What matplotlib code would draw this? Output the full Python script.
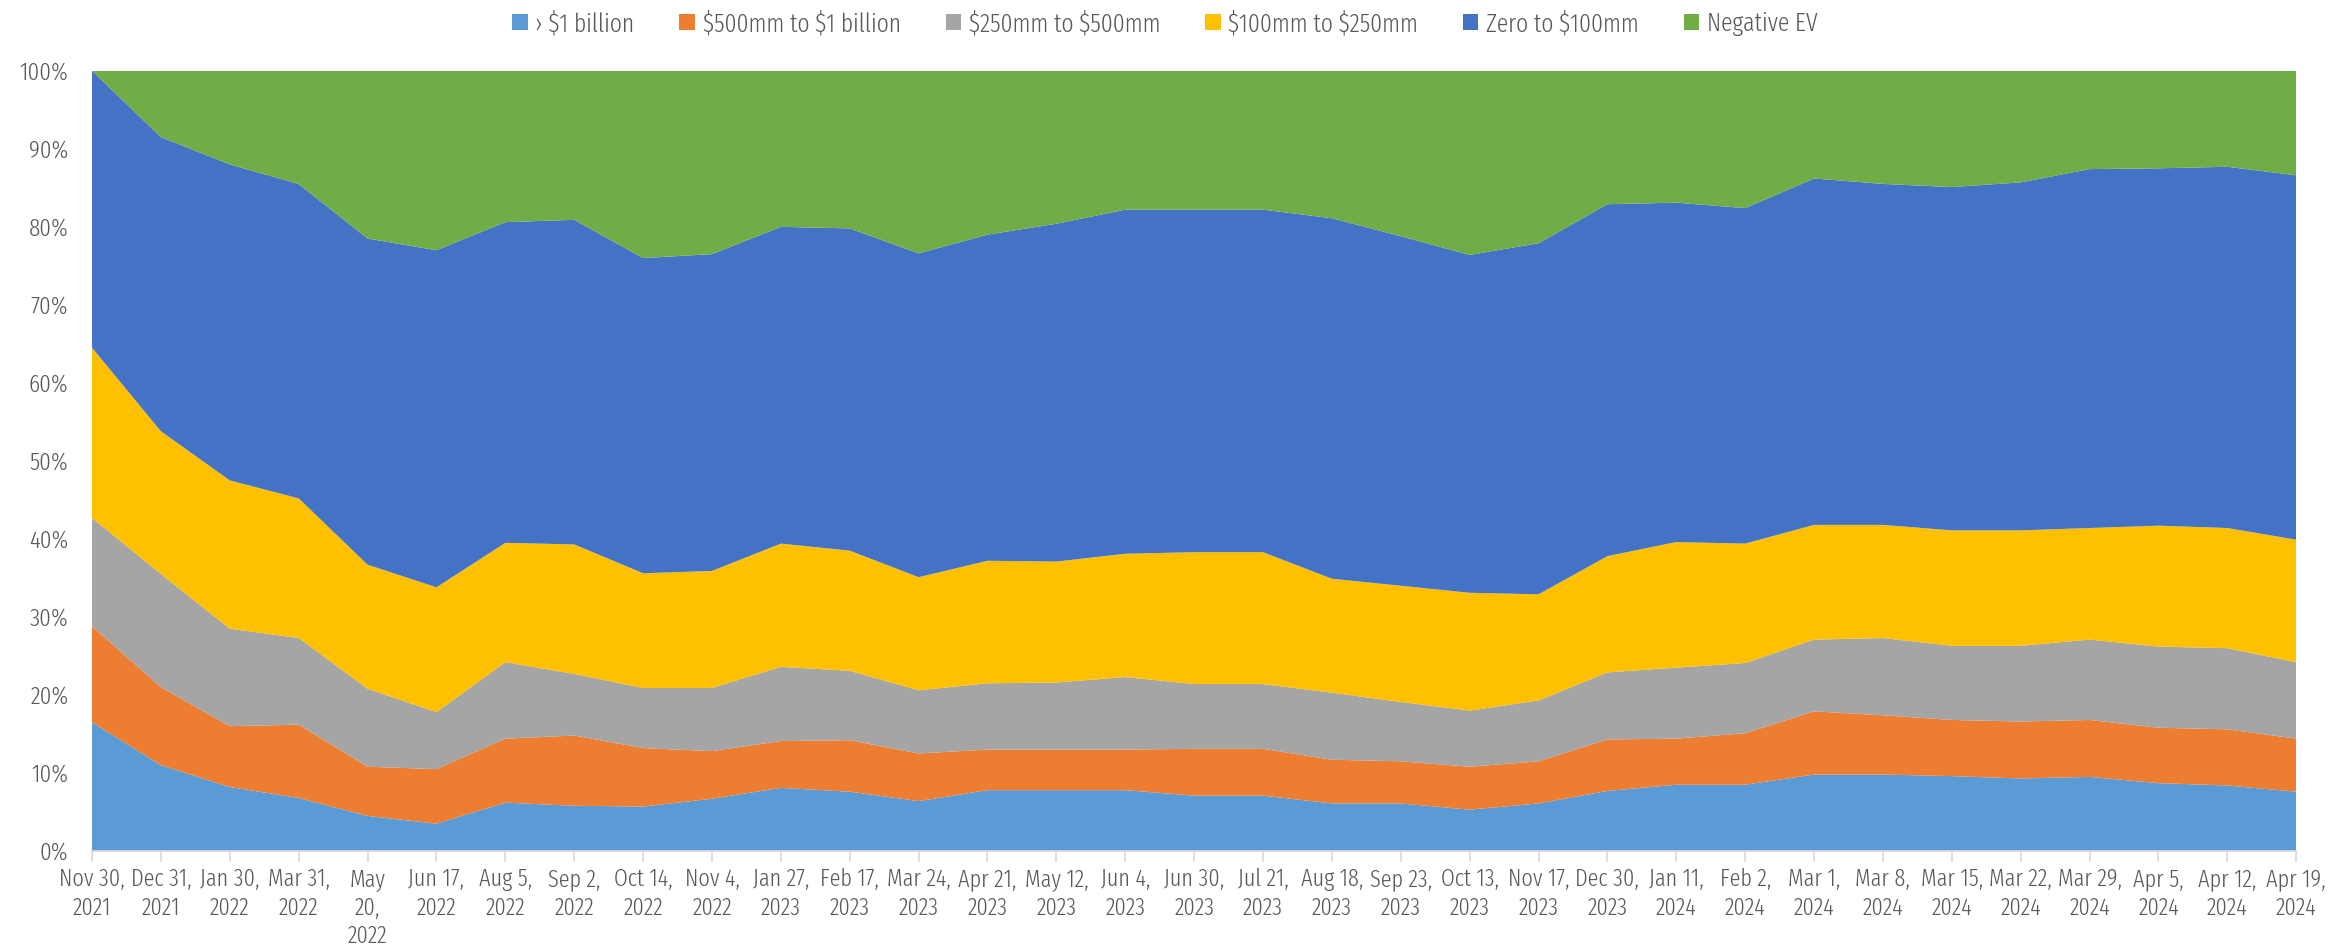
import matplotlib
matplotlib.use("Agg")
import matplotlib.pyplot as plt
import numpy as np
from matplotlib.ticker import PercentFormatter

DATES = ["Nov 30,\n2021", "Dec 31,\n2021", "Jan 30,\n2022", "Mar 31,\n2022", "May\n20,\n2022",
         "Jun 17,\n2022", "Aug 5,\n2022", "Sep 2,\n2022", "Oct 14,\n2022", "Nov 4,\n2022",
         "Jan 27,\n2023", "Feb 17,\n2023", "Mar 24,\n2023", "Apr 21,\n2023", "May 12,\n2023",
         "Jun 4,\n2023", "Jun 30,\n2023", "Jul 21,\n2023", "Aug 18,\n2023", "Sep 23,\n2023",
         "Oct 13,\n2023", "Nov 17,\n2023", "Dec 30,\n2023", "Jan 11,\n2024", "Feb 2,\n2024",
         "Mar 1,\n2024", "Mar 8,\n2024", "Mar 15,\n2024", "Mar 22,\n2024", "Mar 29,\n2024",
         "Apr 5,\n2024", "Apr 12,\n2024", "Apr 19,\n2024"]

# share of companies in each enterprise-value bucket (%)
OVER_1B = [16.5, 11.0, 8.2, 6.8, 4.5, 3.5, 6.2, 5.8, 5.7, 6.7, 8.1, 7.6, 6.4, 7.8, 7.8, 7.8, 7.1,
           7.1, 6.1, 6.1, 5.3, 6.1, 7.7, 8.5, 8.5, 9.8, 9.8, 9.6, 9.3, 9.5, 8.7, 8.4, 7.6]
B500_1B = [12.3, 10.0, 7.8, 9.4, 6.3, 7.0, 8.2, 9.0, 7.5, 6.1, 6.0, 6.6, 6.1, 5.2, 5.2, 5.2, 6.0,
           6.0, 5.6, 5.4, 5.5, 5.4, 6.6, 5.9, 6.6, 8.1, 7.6, 7.2, 7.3, 7.3, 7.1, 7.2, 6.8]
B250_500 = [13.9, 14.5, 12.5, 11.1, 10.0, 7.3, 9.8, 7.9, 7.7, 8.1, 9.5, 8.9, 8.1, 8.5, 8.6, 9.3, 8.3,
            8.3, 8.6, 7.6, 7.2, 7.8, 8.6, 9.1, 9.0, 9.2, 9.9, 9.5, 9.7, 10.3, 10.4, 10.4, 9.8]
B100_250 = [21.8, 18.3, 19.0, 17.9, 15.9, 16.0, 15.3, 16.6, 14.7, 15.0, 15.8, 15.4, 14.5, 15.7, 15.5,
            15.8, 16.9, 16.9, 14.6, 14.9, 15.1, 13.6, 14.9, 16.1, 15.3, 14.7, 14.5, 14.8, 14.8,
            14.3, 15.5, 15.4, 15.7]
ZERO_100 = [35.5, 37.7, 40.5, 40.3, 41.8, 43.2, 41.1, 41.6, 40.4, 40.6, 40.6, 41.3, 41.5, 41.8, 43.3,
            44.1, 43.9, 43.9, 46.2, 44.8, 43.3, 45.0, 45.1, 43.5, 43.0, 44.4, 43.7, 44.0, 44.6,
            46.0, 45.8, 46.3, 46.7]
NEG_EV = [0.0, 8.5, 12.0, 14.5, 21.5, 23.0, 19.4, 19.1, 24.0, 23.5, 20.0, 20.2, 23.4, 21.0, 19.6,
          17.8, 17.8, 17.8, 18.9, 21.2, 23.6, 22.1, 17.1, 16.9, 17.6, 13.8, 14.5, 14.9, 14.3,
          12.6, 12.5, 12.3, 13.4]

LABELS = ["› \\$1 billion", "\\$500mm to \\$1 billion", "\\$250mm to \\$500mm", "\\$100mm to \\$250mm",
          "Zero to \\$100mm", "Negative EV"]
COLORS = ["#5b9bd5", "#ed7d31", "#a5a5a5", "#ffc000", "#4472c4", "#70ad47"]

plt.rcParams["font.family"] = ["Fira Sans Extra Condensed", "DejaVu Sans"]
plt.rcParams["font.weight"] = 300
TXT = "#595959"

fig = plt.figure(figsize=(23.3, 9.44), dpi=100)
ax = fig.add_axes([0.0395, 0.0985, 0.946, 0.8265])

series = np.array([OVER_1B, B500_1B, B250_500, B100_250, ZERO_100, NEG_EV], dtype=float)
shares = series / series.sum(axis=0) * 100
x = np.arange(len(DATES))
ax.stackplot(x, shares, colors=COLORS, labels=LABELS, linewidth=0)

ax.set_xlim(0, len(DATES) - 1)
ax.set_ylim(0, 100)
ax.axhline(100, color="#d9d9d9", lw=1.2, zorder=0)
ax.set_yticks(np.arange(0, 101, 10))
ax.yaxis.set_major_formatter(PercentFormatter(decimals=0))
ax.set_xticks(x)
ax.set_xticklabels(DATES, linespacing=1.3)
ax.tick_params(axis="y", length=0, labelsize=18, colors=TXT, pad=17)
ax.tick_params(axis="x", length=8, width=1.2, color="#d9d9d9", labelsize=17.5, labelcolor=TXT, pad=4)
for s in ["top", "right", "left"]:
    ax.spines[s].set_visible(False)
ax.spines["bottom"].set_color("#d9d9d9")
ax.spines["bottom"].set_linewidth(1.2)

fig.legend(loc="upper center", bbox_to_anchor=(0.5, 1.013), ncol=6, frameon=False,
           fontsize=18.5, labelcolor=TXT, handlelength=0.6, handleheight=0.6,
           handletextpad=0.3, columnspacing=1.75)

fig.savefig("out.png", dpi=100)
